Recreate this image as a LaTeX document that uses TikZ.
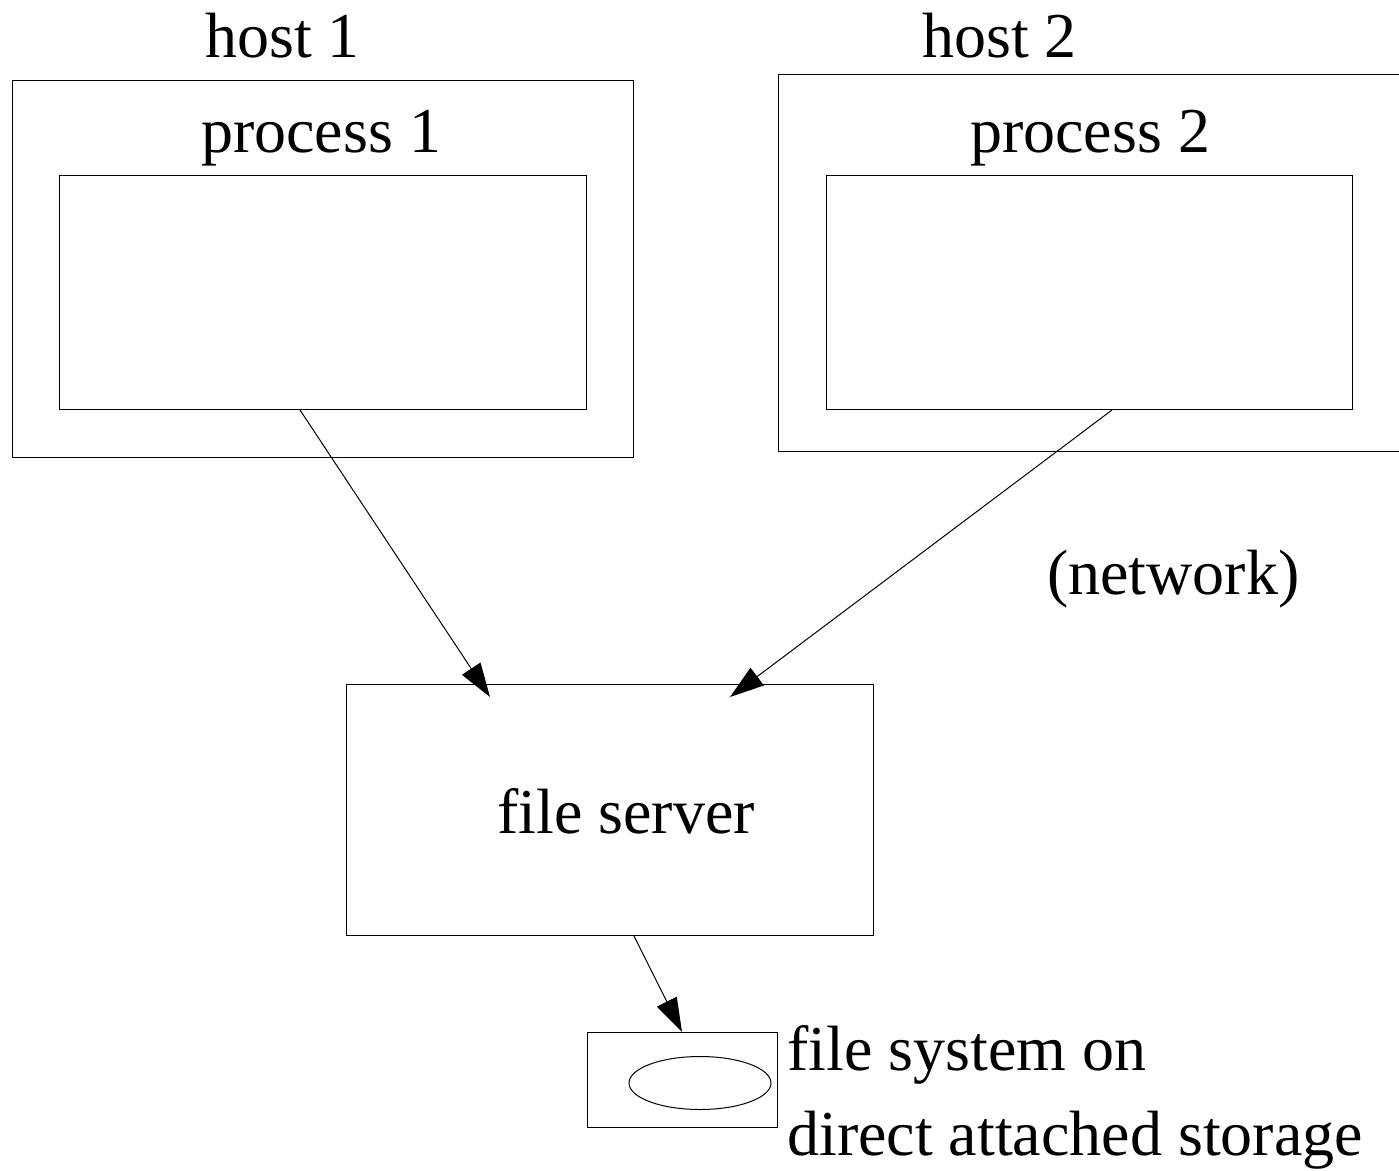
\documentclass[tikz,border=0pt]{standalone}
\usepackage{fontspec}
\setmainfont{Liberation Serif}
\usetikzlibrary{arrows.meta,calc,shapes.geometric}
\tikzset{
  box/.style={draw, line width=1pt, inner sep=0pt, anchor=north west},
  lbl/.style={inner sep=0pt, anchor=base west, font=\fontsize{64}{85}\selectfont},
  arr/.style={line width=1pt, -{Triangle[length=34pt,width=22pt]}}
}
\begin{document}
\begin{tikzpicture}[x=1pt,y=-1pt]
\useasboundingbox (0,0) rectangle (1399,1170);
% hosts and their processes
\node[box, minimum width=621pt, minimum height=377pt] (h1) at (12,80) {};
\node[box, minimum width=527pt, minimum height=234pt] (p1) at (59,175) {};
\node[box, minimum width=622pt, minimum height=377pt] (h2) at (778,74) {};
\node[box, minimum width=526pt, minimum height=234pt] (p2) at (826,175) {};
% file server and its storage
\node[box, minimum width=527pt, minimum height=251pt] (fs) at (346,684) {};
\node[box, minimum width=190pt, minimum height=95pt] (st) at (587,1032) {};
\node[draw, line width=1pt, ellipse, inner sep=0pt, minimum width=142pt, minimum height=53pt] (disk) at (700,1083) {};
% labels
\node[lbl] (th1) at (205,57) {host 1};
\node[lbl] (tp1) at (201,152) {process 1};
\node[lbl] (th2) at (922,57) {host 2};
\node[lbl] (tp2) at (970,152) {process 2};
\node[lbl] (tnet) at (1047,594) {(network)};
\node[lbl] (tfs) at (497,833) {file server};
\node[lbl] (tst1) at (787,1070) {file system on};
\node[lbl] (tst2) at (787,1155) {direct attached storage};
% connectors
\coordinate (a1) at ($(p1.south west)+(241,0)$);
\coordinate (b1) at ($(fs.north west)+(144,13)$);
\coordinate (a2) at ($(p2.south west)+(286,0)$);
\coordinate (b2) at ($(fs.north west)+(384,13)$);
\coordinate (a3) at ($(fs.south west)+(288,0)$);
\coordinate (b3) at ($(st.north west)+(95,0)$);
\draw[arr] (a1) -- (b1);
\draw[arr] (a2) -- (b2);
\draw[arr] (a3) -- (b3);
\end{tikzpicture}
\end{document}
